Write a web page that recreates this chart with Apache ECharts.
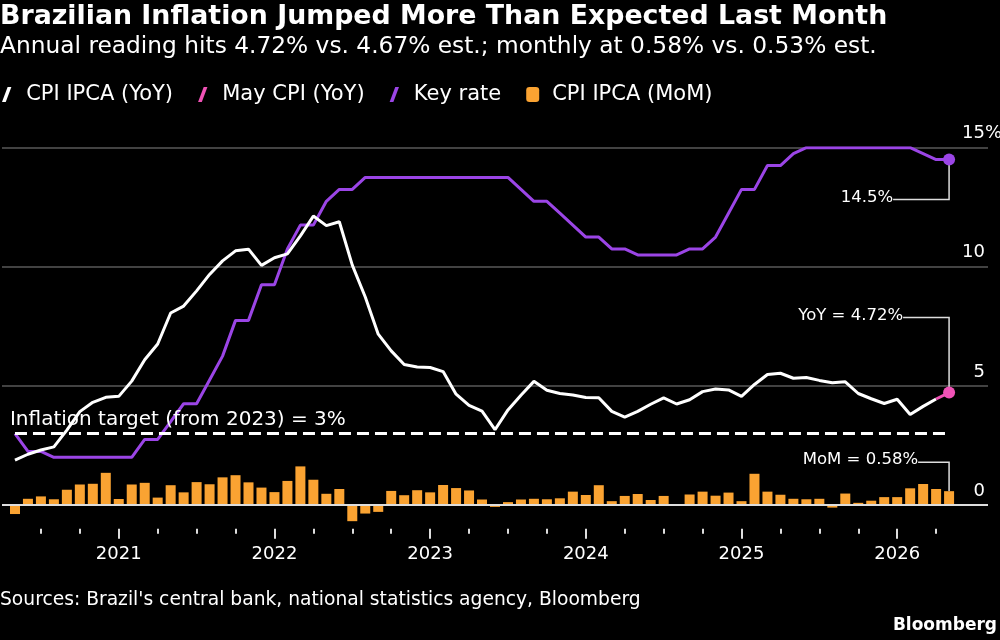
<!DOCTYPE html>
<html>
<head>
<meta charset="utf-8">
<title>Brazilian Inflation</title>
<script src="https://cdn.jsdelivr.net/npm/echarts@6/dist/echarts.min.js"></script>
<style>
html, body { margin: 0; padding: 0; background: #000; }
#chart { width: 1000px; height: 640px; }
</style>
</head>
<body>
<div id="chart"></div>
<script>
// month categories, Apr 2020 .. Aug 2026 (one empty month before the data, three after)
const months = [];
for (let y = 2020; y <= 2026; y++) {
    for (let m = 1; m <= 12; m++) {
        if ((y === 2020 && m < 4) || (y === 2026 && m > 8)) continue;
        months.push(y + '-' + String(m).padStart(2, '0'));
    }
}
const firstMonth = '2020-05';
const lastMonth = '2026-05';

// CPI IPCA, 12-month change, May 2020 .. May 2026
const yoyCpi = [
    1.88, 2.13, 2.31, 2.44, 3.14, 3.92, 4.31, 4.52,
    4.56, 5.20, 6.10, 6.76, 8.06, 8.35, 8.99, 9.68, 10.25, 10.67, 10.74, 10.06,
    10.38, 10.54, 11.30, 12.13, 11.73, 11.89, 10.07, 8.73, 7.17, 6.47, 5.90, 5.79,
    5.77, 5.60, 4.65, 4.18, 3.94, 3.16, 3.99, 4.61, 5.19, 4.82, 4.68, 4.62,
    4.51, 4.50, 3.93, 3.69, 3.93, 4.23, 4.50, 4.24, 4.42, 4.76, 4.87, 4.83,
    4.56, 5.06, 5.48, 5.53, 5.32, 5.35, 5.23, 5.13, 5.17, 4.68, 4.46, 4.26,
    4.44, 3.80, 4.14, 4.45, 4.72
];
// Selic key rate, May 2020 .. May 2026
const keyRate = [
    3.00, 2.25, 2.25, 2.00, 2.00, 2.00, 2.00, 2.00,
    2.00, 2.00, 2.75, 2.75, 3.50, 4.25, 4.25, 5.25, 6.25, 7.75, 7.75, 9.25,
    9.25, 10.75, 11.75, 11.75, 12.75, 13.25, 13.25, 13.75, 13.75, 13.75, 13.75, 13.75,
    13.75, 13.75, 13.75, 13.75, 13.75, 13.75, 13.75, 13.25, 12.75, 12.75, 12.25, 11.75,
    11.25, 11.25, 10.75, 10.75, 10.50, 10.50, 10.50, 10.50, 10.75, 10.75, 11.25, 12.25,
    13.25, 13.25, 14.25, 14.25, 14.75, 15.00, 15.00, 15.00, 15.00, 15.00, 15.00, 15.00,
    15.00, 15.00, 14.75, 14.50, 14.50
];
// CPI IPCA, monthly change, May 2020 .. May 2026
const momCpi = [
    -0.38, 0.26, 0.36, 0.24, 0.64, 0.86, 0.89, 1.35,
    0.25, 0.86, 0.93, 0.31, 0.83, 0.53, 0.96, 0.87, 1.16, 1.25, 0.95, 0.73,
    0.54, 1.01, 1.62, 1.06, 0.47, 0.67, -0.68, -0.36, -0.29, 0.59, 0.41, 0.62,
    0.53, 0.84, 0.71, 0.61, 0.23, -0.08, 0.12, 0.23, 0.26, 0.24, 0.28, 0.56,
    0.42, 0.83, 0.16, 0.38, 0.46, 0.21, 0.38, -0.02, 0.44, 0.56, 0.39, 0.52,
    0.16, 1.31, 0.56, 0.43, 0.26, 0.24, 0.26, -0.11, 0.48, 0.09, 0.18, 0.33,
    0.33, 0.70, 0.88, 0.67, 0.58
];
const inflationTarget = 3;

const FONT = 'DejaVu Sans';
const ORANGE = '#FAA332';
const PURPLE = '#9B45E6';
const PINK = '#F052B6';

const firstIdx = months.indexOf(firstMonth);
const lastIdx = months.indexOf(lastMonth);
const valueAt = (arr, i) => (i >= firstIdx && i <= lastIdx) ? arr[i - firstIdx] : null;

const whiteData = months.map((m, i) => i < lastIdx ? valueAt(yoyCpi, i) : null);
const pinkData = months.map((m, i) => i >= lastIdx - 1 ? valueAt(yoyCpi, i) : null);
const rateData = months.map((m, i) => valueAt(keyRate, i));
const momData = months.map((m, i) => valueAt(momCpi, i));

const inRange = i => i >= firstIdx && i <= lastIdx;
const isJan = i => inRange(i) && months[i].slice(5) === '01';
const isQuarter = i => inRange(i) && (Number(months[i].slice(5)) - 1) % 3 === 0 && !isJan(i);
const lastDot = (v, p) => p.dataIndex === lastIdx ? 12 : 0;

// legend slash
const SLASH = 'path://M0,16L4,16L10,0L6,0Z';

const option = {
    backgroundColor: '#000',
    animation: false,
    textStyle: { fontFamily: FONT },
    title: [
        { text: 'Brazilian Inflation Jumped More Than Expected Last Month', left: 0, top: 4, padding: 0,
          textStyle: { color: '#fff', fontSize: 26.8, fontWeight: 'bold', fontFamily: FONT } },
        { text: 'Annual reading hits 4.72% vs. 4.67% est.; monthly at 0.58% vs. 0.53% est.', left: 0, top: 35, padding: 0,
          textStyle: { color: '#fff', fontSize: 23.3, fontWeight: 'normal', fontFamily: FONT } },
        { text: "Sources: Brazil's central bank, national statistics agency, Bloomberg", left: 0, top: 591, padding: 0,
          textStyle: { color: '#fff', fontSize: 18.7, fontWeight: 'normal', fontFamily: FONT } },
        { text: 'Bloomberg', right: 3, top: 617, padding: 0,
          textStyle: { color: '#fff', fontSize: 17, fontWeight: 'bold', fontFamily: FONT } }
    ],
    legend: {
        left: 2, top: 84, padding: 0, itemGap: 25, itemWidth: 13, itemHeight: 15,
        selectedMode: false,
        data: [
            { name: 'CPI IPCA (YoY)', icon: SLASH },
            { name: 'May CPI (YoY)', icon: SLASH },
            { name: 'Key rate', icon: SLASH },
            { name: 'CPI IPCA (MoM)', icon: 'roundRect' }
        ],
        formatter: n => '{t|' + n + '}',
        textStyle: { color: '#fff', fontSize: 21, fontFamily: FONT,
            rich: { t: { padding: [0, 0, 0, 8], fontSize: 21, color: '#fff', fontFamily: FONT } } }
    },
    grid: { left: 2, right: 12, top: 147.7, bottom: 111.2, containLabel: false, outerBoundsMode: 'none' },
    xAxis: [
        {
            type: 'category', data: months, boundaryGap: false,
            axisLine: { show: false, onZero: false },
            axisTick: { show: true, interval: i => isQuarter(i), length: 5, lineStyle: { color: '#ddd', width: 2 } },
            axisLabel: { show: false },
            splitLine: { show: false }
        },
        {
            type: 'category', data: months, boundaryGap: false, position: 'bottom',
            axisLine: { show: false, onZero: false },
            axisTick: { show: true, interval: i => isJan(i), length: 10, lineStyle: { color: '#ddd', width: 2 } },
            axisLabel: { show: true, interval: i => isJan(i), formatter: v => v.slice(0, 4),
                color: '#fff', fontSize: 18, fontFamily: FONT, margin: 17 },
            splitLine: { show: false }
        }
    ],
    yAxis: {
        type: 'value', position: 'right', min: -1, max: 15, splitNumber: 3, minInterval: 5, maxInterval: 5,
        axisLine: { show: false }, axisTick: { show: false },
        splitLine: { show: true, showMinLine: false, lineStyle: { color: '#595959', width: 1.5 } },
        axisLabel: {
            inside: true, margin: 3, showMinLabel: false, color: '#fff', fontSize: 18, fontFamily: FONT,
            verticalAlign: 'bottom', padding: [0, 0, 5, 0],
            formatter: v => v === 15 ? '{n|15}{p|%}' : (v < 0 ? '' : String(v)),
            rich: {
                n: { align: 'left', fontSize: 18, color: '#fff', fontFamily: FONT },
                p: { width: 0, align: 'left', fontSize: 18, color: '#fff', fontFamily: FONT }
            }
        }
    },
    series: [
        {
            name: 'CPI IPCA (MoM)', type: 'bar', data: momData, barWidth: 10,
            color: ORANGE, itemStyle: { color: ORANGE }, z: 1,
            markLine: {
                silent: true, symbol: 'none', label: { show: false },
                lineStyle: { color: '#ddd', width: 2, type: 'solid' },
                data: [{ yAxis: 0 }]
            }
        },
        {
            name: 'Key rate', type: 'line', data: rateData, color: PURPLE,
            lineStyle: { width: 3, color: PURPLE }, itemStyle: { color: PURPLE },
            symbol: 'circle', showAllSymbol: true, symbolSize: lastDot, z: 3
        },
        {
            name: 'CPI IPCA (YoY)', type: 'line', data: whiteData, color: '#fff',
            lineStyle: { width: 3, color: '#fff' }, itemStyle: { color: '#fff' }, showSymbol: false, z: 4,
            markLine: {
                silent: true, symbol: 'none',
                lineStyle: { color: '#fff', width: 3, type: [12, 6] },
                label: { show: true, position: 'insideStartTop', formatter: 'Inflation target (from 2023) = 3%',
                    color: '#fff', fontSize: 20, fontFamily: FONT, distance: [-5, 4] },
                data: [[{ coord: [firstMonth, inflationTarget] }, { coord: [lastMonth, inflationTarget] }]]
            }
        },
        {
            name: 'May CPI (YoY)', type: 'line', data: pinkData, color: PINK,
            lineStyle: { width: 3, color: PINK }, itemStyle: { color: PINK },
            symbol: 'circle', showAllSymbol: true, symbolSize: lastDot, z: 5
        }
    ]
};

const chart = echarts.init(document.getElementById('chart'));
chart.setOption(option);

// callouts for the latest readings
const at = (cat, v) => chart.convertToPixel({ xAxisIndex: 0, yAxisIndex: 0 }, [cat, v]);
function callout(p, dy, dx, text) {
    const y = p[1] + dy, x = p[0] + dx;
    return [
        { type: 'polyline', z: 1, silent: true,
          shape: { points: [[p[0], p[1]], [p[0], y], [x, y]] },
          style: { stroke: '#ddd', lineWidth: 1.5, fill: null } },
        { type: 'text', z: 6, silent: true, x: x, y: y - 2,
          style: { text: text, fill: '#fff', fontSize: 16.5, fontFamily: FONT,
                   align: 'right', verticalAlign: 'middle', textAlign: 'right', textVerticalAlign: 'middle' } }
    ];
}
const graphics = [].concat(
    callout(at(lastMonth, keyRate[keyRate.length - 1]), 40, -56, '14.5%'),
    callout(at(lastMonth, yoyCpi[yoyCpi.length - 1]), -75, -46, 'YoY = 4.72%'),
    callout(at(lastMonth, momCpi[momCpi.length - 1]), -29, -31, 'MoM = 0.58%')
);
chart.setOption({ graphic: graphics });

window.addEventListener('resize', () => { chart.resize(); });
</script>
</body>
</html>
